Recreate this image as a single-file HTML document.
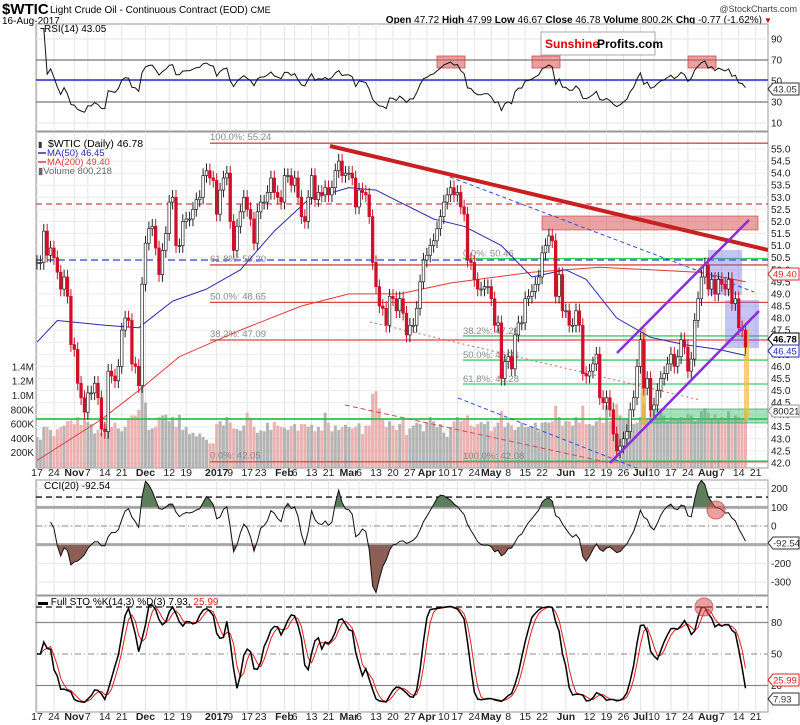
<!DOCTYPE html>
<html><head><meta charset="utf-8"><style>
html,body{margin:0;padding:0;background:#fff;}
svg{display:block;font-family:"Liberation Sans",sans-serif;}
</style></head><body>
<svg id="chart" width="800" height="725" viewBox="0 0 800 725" xmlns="http://www.w3.org/2000/svg">
<defs>
<clipPath id="cMain"><rect x="36" y="132" width="732" height="336"/></clipPath>
<clipPath id="cRsi"><rect x="36" y="24" width="732" height="107"/></clipPath>
<clipPath id="cCci"><rect x="36" y="480" width="732" height="115"/></clipPath>
<clipPath id="cSto"><rect x="36" y="596" width="732" height="116"/></clipPath>
<clipPath id="cAbove"><rect x="36" y="480" width="732" height="27.3"/></clipPath>
<clipPath id="cBelow"><rect x="36" y="544.7" width="732" height="60"/></clipPath>
</defs>
<text x="2" y="14" font-size="15" font-weight="bold">$WTIC</text>
<text x="50" y="13" font-size="10">Light Crude Oil - Continuous Contract (EOD) <tspan font-size="9">CME</tspan></text>
<text x="2" y="24" font-size="10">16-Aug-2017</text>
<text x="797" y="12" font-size="9" text-anchor="end" fill="#444">@StockCharts.com</text>
<text x="762" y="23" font-size="10" text-anchor="end"><tspan font-weight="bold">Open</tspan> 47.72 <tspan font-weight="bold">High</tspan> 47.99 <tspan font-weight="bold">Low</tspan> 46.67 <tspan font-weight="bold">Close</tspan> 46.78 <tspan font-weight="bold">Volume</tspan> 800.2K <tspan font-weight="bold">Chg</tspan> -0.77 (-1.62%)</text>
<text x="764" y="23" font-size="8" fill="#c00">▼</text>
<g id="g"></g>
</svg>
<script>
// ===== DATA =====
const monthNames = ["Oct","Nov","Dec","Jan","Feb","Mar","Apr","May","Jun","Jul","Aug"];
const closes = [
50.3,50.3,51.6,50.6,50.9,50.5,49.9,49.2,49.7,48.9,46.9,
46.7,45.3,44.7,44.1,44.9,44.9,45.3,44.7,43.4,43.3,45.8,45.6,45.4,46.0,47.5,48.0,47.9,46.1,46.0,45.2,49.4,
51.1,51.7,51.8,50.9,49.8,50.8,51.5,52.8,53.0,51.0,51.0,52.0,52.1,52.1,52.5,52.9,53.0,53.9,54.1,53.8,53.7,
52.3,53.3,53.8,54.0,52.0,50.8,51.8,52.4,53.0,52.5,52.1,51.1,52.4,52.8,52.8,53.2,53.8,53.2,53.0,52.8,
53.9,53.9,53.5,53.8,53.0,52.2,52.0,53.0,53.9,52.9,53.2,53.1,53.4,53.1,53.4,54.1,54.5,53.9,54.0,
54.0,53.8,52.6,53.3,53.2,53.1,52.2,50.3,49.3,48.5,48.4,47.7,48.9,48.8,48.3,48.8,48.2,47.3,47.7,47.7,48.4,49.5,50.4,
50.6,51.0,51.2,51.7,52.2,52.8,53.1,53.4,53.1,53.2,52.6,52.3,50.4,50.3,49.6,49.2,49.2,49.3,49.3,
48.8,47.7,47.8,45.5,46.2,46.4,45.9,47.3,47.8,47.8,48.8,48.9,49.1,49.4,49.7,50.7,51.0,51.4,51.2,48.9,49.8,48.3,
48.3,47.7,47.7,48.3,47.7,45.7,45.6,45.8,46.1,46.5,44.7,44.5,44.7,44.2,43.2,42.5,42.7,43.0,43.3,44.2,44.7,46.0,
47.1,45.1,45.5,44.2,44.4,45.0,45.5,45.7,46.1,46.5,46.0,46.4,47.1,46.8,45.8,46.3,47.9,48.8,49.7,50.2,
49.2,49.6,49.0,49.6,49.4,49.2,49.6,48.6,48.8,47.6,47.5,46.8];
const volumesK = [
420,380,560,560,520,430,530,560,580,640,650,
600,700,590,680,630,600,470,520,480,600,730,560,620,540,500,560,680,720,720,800,1180,
900,520,540,560,700,720,730,640,700,560,730,520,560,460,480,430,470,420,380,330,330,
600,640,580,700,620,540,530,510,580,760,690,560,480,510,500,620,520,630,580,560,
550,520,570,600,510,600,600,560,590,500,560,510,760,620,500,580,520,560,590,
560,540,560,610,460,580,580,1020,1060,820,680,560,640,580,520,600,660,450,540,580,620,600,500,
620,700,640,560,600,480,420,560,640,700,640,660,720,580,560,600,630,600,640,
500,560,620,780,560,620,580,520,560,620,560,560,560,620,500,620,630,620,640,860,700,580,
640,640,580,700,620,860,600,600,580,640,700,620,860,640,600,880,720,660,660,660,600,620,
700,880,660,680,680,700,780,720,640,700,680,660,700,680,740,720,640,660,780,820,
760,680,740,680,700,680,780,660,720,700,660,800];
const ma50Idx = [0,6,20,30,40,50,60,70,80,92,100,107,117,126,137,146,156,162,171,181,191,201,209];
const ma50Val = [47.0,47.9,47.7,47.6,48.7,49.2,50.0,51.6,52.9,53.4,53.3,52.8,52.1,51.8,51.0,49.7,50.0,49.6,48.0,47.2,46.9,46.7,46.45];
const ma200Idx = [0,19,30,42,60,78,92,107,122,146,166,195,209];
const ma200Val = [42.1,43.8,45.0,46.4,47.5,48.5,49.0,49.0,49.45,49.9,50.1,49.9,49.5];
const tickIdx = [0,5,11,15,20,25,32,39,44,53,57,62,66,73,76,81,86,92,95,100,105,110,115,120,124,129,134,139,144,149,156,163,168,173,178,182,187,192,198,202,207,212];
const tickLabels = ["17","24","Nov","7","14","21","Dec","12","19","2017","9","17","23","Feb","6","13","21","Mar","6","13","20","27","Apr","10","17","24","May","8","15","22","Jun","12","19","26","Jul","10","17","24","Aug","7","14","21"];
const priceTicks = [42.0,42.5,43.0,43.5,44.0,44.5,45.0,45.5,46.0,46.5,47.0,47.5,48.0,48.5,49.0,49.5,50.0,50.5,51.0,51.5,52.0,52.5,53.0,53.5,54.0,54.5,55.0];
const volTicks = [200,400,600,800,1000,1200,1400];
const volTickLabels = ["200K","400K","600K","800K","1.0M","1.2M","1.4M"];
const rsiTicks = [10,30,50,70,90];
const cciTicks = [200,100,0,-200,-300];
const stoTicks = [80,50,20];
const fibLevels = [55.24,50.20,48.65,47.09,42.05];
const fibLabels = ["100.0%: 55.24","61.8%: 50.20","50.0%: 48.65","38.2%: 47.09","0.0%: 42.05"];
const fib2Levels = [50.46,47.26,46.26,45.27,42.08];
const fib2Labels = ["0.0%: 50.46","38.2%: 47.26","50.0%: 46.26","61.8%: 45.28","100.0%: 42.08"];

// ===== SCALES =====
const x = i => 37 + 3.39 * i;
const yP = p => 149 + (55 - p) * 24.15;
const yV = v => 467 - v * 0.0715;
const yR = v => 81 - (v - 50) * 1.05;
const yC = v => 526 - v * 0.1867;
const yS = v => 654 - (v - 50) * 1.05;
const NS = "http://www.w3.org/2000/svg";
const G = document.getElementById('g');
function mk(tag, attrs, parent) {
  const e = document.createElementNS(NS, tag);
  for (const k in attrs) e.setAttribute(k, attrs[k]);
  (parent || G).appendChild(e);
  return e;
}
function grp(clip) { const g = mk('g', clip ? {'clip-path': 'url(#' + clip + ')'} : {}); return g; }

const panels = [[24,107,'rsi-panel'],[132,336,'price-panel'],[480,115,'cci-panel'],[596,116,'sto-panel']];
panels.forEach(p => {
  const r = mk('rect', {x:36, y:p[0], width:732, height:p[1], fill:'#fff', stroke:'#999', 'stroke-width':1});
  
  
});

tickIdx.forEach((ti, k) => {
  const xx = x(ti);
  panels.forEach(p => {
    const l = mk('line', {x1:xx, x2:xx, y1:p[0], y2:p[0]+p[1], stroke:'#e4e4e4', 'stroke-width':1});
    
    
  });
  const lab = tickLabels[k];
  const bold = isNaN(+lab) || lab === '2017';
  [476, 720].forEach(yy => {
    const t = mk('text', {x:xx, y:yy, 'font-size':10.5, 'text-anchor':'middle', 'font-weight': bold ? 'bold':'normal', fill:'#222'});
    t.textContent = lab;
    
    
  });
});

priceTicks.forEach(p => {
  const l = mk('line', {x1:36, x2:768, y1:yP(p), y2:yP(p), stroke:'#ececec'});
  
  
  const t = mk('text', {x:771, y:yP(p)+3.5, 'font-size':10, fill:'#222'});
  t.textContent = p.toFixed(1);
  
  
});
volTicks.forEach((v, k) => {
  const t = mk('text', {x:34, y:yV(v)+3.5, 'font-size':10, 'text-anchor':'end', fill:'#222'});
  t.textContent = volTickLabels[k];
  
  
});

// ===== MAIN PANEL =====
const gm = grp('cMain');
volumesK.forEach((v, i) => {
  const up = i === 0 || closes[i] >= closes[i-1];
  const r = mk('rect', {x:x(i)-1.5, y:yV(v), width:3, height:467-yV(v)+1, fill: up ? '#a8a8a8' : '#e8a4a4', opacity:0.85}, gm);
  
  
});
function hline(y1, x1, x2, color, w, dash, name) {
  const l = mk('line', {x1:x1, x2:x2, y1:y1, y2:y1, stroke:color, 'stroke-width':w}, gm);
  if (dash) l.setAttribute('stroke-dasharray', dash);
  
  
}
hline(204, 36, 768, '#d04848', 1.2, '6,4', 'resistance-dashed-line');
hline(260, 36, 768, '#2a3cd8', 1.2, '7,4', 'blue-dashed-level');
hline(419, 36, 768, '#2cc04a', 1.8, null, 'green-support-line');
fibLevels.forEach((p, k) => {
  hline(yP(p), 210, 768, '#d84848', 1.3, null, 'fib-level-line');
  const t = mk('text', {x:210, y:yP(p)-3, 'font-size':9.5, fill:'#8a8a8a'}, gm);
  t.textContent = fibLabels[k];
  
  
});
fib2Levels.forEach((p, k) => {
  hline(yP(p), 463, 768, '#3ccc6a', 1.3, null, 'fib2-level-line');
  const t = mk('text', {x:463, y:yP(p)-2, 'font-size':9.5, fill:'#8a8a8a'}, gm);
  t.textContent = fib2Labels[k];
  
  
});
function rect(a, name) { const r = mk('rect', a, gm);   return r; }
rect({x:542, y:216, width:216, height:14, fill:'rgba(215,70,70,0.5)', stroke:'rgba(200,60,60,0.6)'}, 'resistance-zone');
rect({x:650, y:409, width:122, height:14, fill:'rgba(60,190,110,0.45)', stroke:'rgba(40,170,90,0.7)'}, 'support-zone');
rect({x:708, y:250, width:34, height:45, fill:'rgba(110,110,230,0.4)'}, 'consolidation-box');
rect({x:725, y:300, width:34, height:48, fill:'rgba(110,110,230,0.4)'}, 'breakdown-box');
rect({x:641, y:328, width:5, height:97, fill:'rgba(240,170,40,0.7)'}, 'orange-marker-1');
rect({x:744, y:330, width:5, height:90, fill:'rgba(240,190,60,0.7)'}, 'orange-marker-2');
function seg(x1,y1,x2,y2,color,w,dash,name) {
  const l = mk('line', {x1:x1,y1:y1,x2:x2,y2:y2,stroke:color,'stroke-width':w}, gm);
  if (dash) l.setAttribute('stroke-dasharray', dash);
  
  
}
seg(450,177,754,292,'#3050e0',1,'4,3','blue-dashed-trendline');
seg(458,398,700,493,'#3050e0',1,'4,3','blue-dashed-lower-trendline');
seg(370,322,700,400,'#e06060',1,'2,3','red-dotted-trendline');
seg(345,405,610,463,'#d05050',1,'5,3','red-dashed-lower-trendline');
function poly(idx, vals, color, w, name, parent) {
  const pts = idx.map((ii, k) => x(ii).toFixed(1) + ',' + yP(vals[k]).toFixed(1)).join(' ');
  const pl = mk('polyline', {points:pts, fill:'none', stroke:color, 'stroke-width':w, 'stroke-linejoin':'round'}, parent || gm);
  
  
}
poly(ma200Idx, ma200Val, '#e03c3c', 1, 'ma200-line');
poly(ma50Idx, ma50Val, '#2a2ab0', 1, 'ma50-line');
closes.forEach((c, i) => {
  const o = i === 0 ? c : closes[i-1];
  const hi = Math.max(o, c) + 0.3, lo = Math.min(o, c) - 0.3;
  const down = c < o;
  const col = down ? '#d0102a' : '#222';
  const w = mk('line', {x1:x(i), x2:x(i), y1:yP(hi), y2:yP(lo), stroke:col, 'stroke-width':1}, gm);
  
  
  const top = yP(Math.max(o, c)), h = Math.max(1, Math.abs(yP(o) - yP(c)));
  const b = mk('rect', {x:x(i)-1.3, y:top, width:2.6, height:h, fill: down ? '#d0102a' : '#fff', stroke:col, 'stroke-width':0.7}, gm);
  
  
});
seg(330,146,768,250,'#c82020',4,null,'major-downtrend-line');
seg(617,353,749,220,'#8a2be2',2.5,null,'channel-upper-line');
seg(610,463,759,311,'#8a2be2',2.5,null,'channel-lower-line');

function txt(xx, yy, s, size, color, name, extra) {
  const t = mk('text', Object.assign({x:xx, y:yy, 'font-size':size, fill:color}, extra || {}));
  t.textContent = s;
  
  
  return t;
}
txt(48, 147, '$WTIC (Daily) 46.78', 10.5, '#000', 'price-legend');
txt(38, 147, '▮', 8, '#333', 'price-legend-icon');
seg(38,153,46,153,'#2a2ab0',1.5,null,'ma50-legend-swatch');
txt(47, 156, 'MA(50) 46.45', 9.5, '#2a2ab0', 'ma50-legend');
seg(38,162,46,162,'#e03c3c',1.5,null,'ma200-legend-swatch');
txt(47, 165, 'MA(200) 49.40', 9.5, '#e03c3c', 'ma200-legend');
txt(38, 174, '▮Volume 800,218', 9.5, '#666', 'volume-legend');

function valBox(yy, s, color, name, bold) {
  const r = mk('path', {d:'M768,'+yy+' l5,-6 h26 v12 h-26 z', fill:'#fff', stroke:color, 'stroke-width':1});
  
  
  txt(773, yy+3.5, s, 9.5, color === '#999' ? '#222' : color, name, bold ? {'font-weight':'bold'} : {});
}
valBox(274, '49.40', '#d03030', 'ma200-value-label');
valBox(339, '46.78', '#000', 'close-value-label', true);
valBox(351, '46.45', '#2a2ab0', 'ma50-value-label');
valBox(411, '800218', '#999', 'volume-value-label');

// ===== INDICATORS (computed from closes) =====
const highs = closes.map((c,i) => Math.max(c, i ? closes[i-1] : c) + 0.3);
const lows = closes.map((c,i) => Math.min(c, i ? closes[i-1] : c) - 0.3);
const rsi = [];
let ag = 0, al = 0;
for (let i = 1; i < closes.length; i++) {
  const d = closes[i] - closes[i-1];
  const gn = Math.max(d, 0), ls = Math.max(-d, 0);
  if (i <= 14) { ag = (ag*(i-1) + gn)/i; al = (al*(i-1) + ls)/i; }
  else { ag = (ag*13 + gn)/14; al = (al*13 + ls)/14; }
  rsi.push([i, al === 0 ? 100 : 100 - 100/(1 + ag/al)]);
}
const tp = closes.map((c,i) => (highs[i] + lows[i] + c)/3);
const cci = [];
for (let i = 4; i < tp.length; i++) {
  const s = Math.max(0, i-19), win = tp.slice(s, i+1);
  const m = win.reduce((a,b)=>a+b,0)/win.length;
  const md = win.reduce((a,b)=>a+Math.abs(b-m),0)/win.length;
  cci.push([i, md > 0 ? (tp[i]-m)/(0.015*md) : 0]);
}
const raw = closes.map((c,i) => {
  const s = Math.max(0, i-13);
  const hh = Math.max(...highs.slice(s,i+1)), ll = Math.min(...lows.slice(s,i+1));
  return hh > ll ? (c-ll)/(hh-ll)*100 : 50;
});
const sma3 = arr => arr.map((v,i) => { const w = arr.slice(Math.max(0,i-2), i+1); return w.reduce((a,b)=>a+b,0)/w.length; });
const kS = sma3(raw), dS = sma3(kS);

function ind(pairs, yf, color, w, name, g) {
  const pts = pairs.map(p => x(p[0]).toFixed(1)+','+yf(p[1]).toFixed(1)).join(' ');
  const pl = mk('polyline', {points:pts, fill:'none', stroke:color, 'stroke-width':w}, g);
  
  
  return pts;
}
const gr = grp('cRsi');
rsiTicks.forEach(v => {
  const l = mk('line', {x1:36,x2:768,y1:yR(v),y2:yR(v),stroke: (v===30||v===70)?'#777':'#e6e6e6','stroke-width':(v===30||v===70)?1.2:1}, gr);
  
  
  txt(771, yR(v)+3.5, String(v), 10, '#222', 'rsi-tick-label');
});
const l50 = mk('line', {x1:36,x2:768,y1:yR(50)-1,y2:yR(50)-1,stroke:'#2a2ad0','stroke-width':1.5}, gr);


[[437,'rsi-overbought-box-1'],[532,'rsi-overbought-box-2'],[688,'rsi-overbought-box-3']].forEach(b => {
  const r = mk('rect', {x:b[0], y:56, width:28, height:12, fill:'rgba(220,80,80,0.55)', stroke:'rgba(200,60,60,0.7)'}, gr);
  
  
});
ind(rsi, yR, '#111', 1, 'rsi-line', gr);
txt(44, 32, 'RSI(14) 43.05', 10, '#000', 'rsi-legend');
valBox(89, '43.05', '#333', 'rsi-value-label');
const sb = mk('rect', {x:541, y:32, width:114, height:23, fill:'#fff', stroke:'#aaa'});


txt(545, 48, 'Sunshine', 12, '#e00000', 'sunshine-text', {'font-weight':'bold'});
txt(597, 48, 'Profits.com', 12, '#000', 'profits-text', {'font-weight':'bold'});

const gc = grp('cCci');
cciTicks.forEach(v => {
  const l = mk('line', {x1:36,x2:768,y1:yC(v),y2:yC(v),stroke:'#e6e6e6'}, gc);
  
  
  txt(771, yC(v)+3.5, String(v), 10, '#222', 'cci-tick-label');
});
[[100,'#aaa',3,null],[-100,'#aaa',3,null],[0,'#888',1,'6,3,1,3'],[155,'#111',1.3,'6,4']].forEach(a => {
  const l = mk('line', {x1:36,x2:768,y1:yC(a[0]),y2:yC(a[0]),stroke:a[1],'stroke-width':a[2]}, gc);
  if (a[3]) l.setAttribute('stroke-dasharray', a[3]);
  
  
});
const cciPts = cci.map(p => x(p[0]).toFixed(1)+','+yC(p[1]).toFixed(1)).join(' ');
const x0 = x(cci[0][0]).toFixed(1), x1 = x(cci[cci.length-1][0]).toFixed(1);
const fa = mk('polygon', {points: x0+','+yC(100)+' '+cciPts+' '+x1+','+yC(100), fill:'#5d7d5d', 'clip-path':'url(#cAbove)'}, gc);


const fb = mk('polygon', {points: x0+','+yC(-100)+' '+cciPts+' '+x1+','+yC(-100), fill:'#8d5e56', 'clip-path':'url(#cBelow)'}, gc);


ind(cci, yC, '#111', 1, 'cci-line', gc);
const cc = mk('circle', {cx:716, cy:510, r:9, fill:'rgba(220,80,80,0.55)', stroke:'rgba(200,60,60,0.7)'}, gc);


txt(44, 489, 'CCI(20) -92.54', 10, '#000', 'cci-legend');
valBox(543, '-92.54', '#333', 'cci-value-label');

const gs = grp('cSto');
stoTicks.forEach(v => {
  const l = mk('line', {x1:36,x2:768,y1:yS(v),y2:yS(v),stroke:'#888','stroke-width':v===50?1:1.3}, gs);
  if (v === 50) l.setAttribute('stroke-dasharray', '6,3,1,3');
  
  
  txt(771, yS(v)+3.5, String(v), 10, '#222', 'sto-tick-label');
});
const sd = mk('line', {x1:36,x2:768,y1:607,y2:607,stroke:'#111','stroke-width':1.3,'stroke-dasharray':'6,4'}, gs);


ind(dS.map((v,i)=>[i,v]), yS, '#e02020', 1, 'sto-d-line', gs);
ind(kS.map((v,i)=>[i,v]), yS, '#000', 1.5, 'sto-k-line', gs);
const sc = mk('circle', {cx:704, cy:607, r:9, fill:'rgba(220,80,80,0.55)', stroke:'rgba(200,60,60,0.7)'}, gs);


const st = txt(38, 605, '▬ Full STO %K(14,3) %D(3) 7.93, ', 10, '#000', 'sto-legend');
const sp = document.createElementNS(NS, 'tspan');
sp.setAttribute('fill', '#e02020');
sp.textContent = '25.99';
st.appendChild(sp);
valBox(680, '25.99', '#e02020', 'sto-d-value-label');
valBox(699, '7.93', '#333', 'sto-k-value-label');
</script>
</body></html>
